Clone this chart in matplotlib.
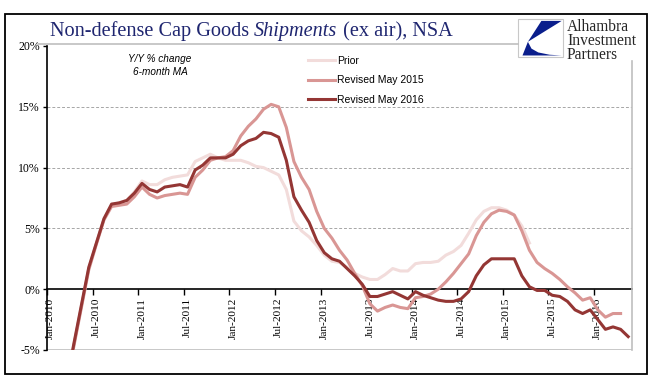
import numpy as np
import matplotlib
matplotlib.use("Agg")
import matplotlib.pyplot as plt
from matplotlib.patches import Rectangle, Polygon
from matplotlib.lines import Line2D

# Monthly data, Jan-2010 .. May-2016 (Y/Y % change, 6-month MA)
nan = np.nan
revised_2016 = [nan, nan, -8.0, -4.6, -1.4, 1.8, 3.8, 5.8, 7.0, 7.1, 7.3, 7.9,
                8.7, 8.2, 8.0, 8.4, 8.5, 8.6, 8.4, 9.8, 10.2, 10.8, 10.8, 10.8,
                11.1, 11.8, 12.2, 12.4, 12.9, 12.8, 12.5, 10.6, 7.6, 6.5, 5.5, 4.0,
                3.0, 2.5, 2.3, 1.7, 1.1, 0.4, -0.6, -0.6, -0.4, -0.2, -0.5, -0.8,
                -0.2, -0.5, -0.7, -0.9, -1.0, -1.0, -0.8, -0.2, 1.1, 2.0, 2.5, 2.5,
                2.5, 2.5, 1.1, 0.2, -0.1, -0.1, -0.5, -0.6, -1.0, -1.7, -2.0, -1.7,
                -2.5, -3.3, -3.1, -3.3, -3.9]
revised_2015 = [nan, nan, -8.2, -4.8, -1.6, 1.6, 3.7, 5.7, 6.8, 6.9, 7.0, 7.6,
                8.4, 7.8, 7.5, 7.7, 7.8, 7.9, 7.8, 9.2, 9.8, 10.6, 10.8, 10.9,
                11.4, 12.6, 13.4, 14.0, 14.8, 15.2, 15.0, 13.3, 10.5, 9.2, 8.2, 6.4,
                5.0, 4.2, 3.2, 2.4, 1.3, 0.3, -1.2, -1.8, -1.5, -1.3, -1.5, -1.6,
                -0.7, -0.6, -0.4, 0.0, 0.6, 1.3, 2.1, 2.9, 4.4, 5.5, 6.2, 6.5,
                6.4, 6.1, 4.8, 3.2, 2.2, 1.7, 1.3, 0.8, 0.2, -0.3, -0.9, -0.7,
                -1.7, -2.3, -2.0, -2.0]
prior = [nan, nan, -8.1, -4.7, -1.5, 1.7, 3.8, 5.8, 6.9, 7.1, 7.3, 8.0,
         8.9, 8.6, 8.6, 9.0, 9.2, 9.3, 9.4, 10.5, 10.8, 11.1, 10.8, 10.6,
         10.6, 10.6, 10.4, 10.1, 10.0, 9.7, 9.4, 8.2, 5.6, 4.8, 4.3, 3.6,
         2.8, 2.3, 2.2, 1.8, 1.3, 1.0, 0.8, 0.8, 1.2, 1.7, 1.5, 1.5,
         2.1, 2.2, 2.2, 2.3, 2.8, 3.1, 3.6, 4.6, 5.7, 6.4, 6.7, 6.7,
         6.5, 6.1, 5.2, 3.8]

tick_labels = ["Jan-2010", "Jul-2010", "Jan-2011", "Jul-2011", "Jan-2012", "Jul-2012",
               "Jan-2013", "Jul-2013", "Jan-2014", "Jul-2014", "Jan-2015", "Jul-2015",
               "Jan-2016"]
y_ticks = [-5, 0, 5, 10, 15, 20]

c_prior = "#F2DCDB"
c_2015 = "#D99694"
c_2016 = "#943634"
serif = "Liberation Serif"
sans = "Liberation Sans"

W, H = 651, 392
fig = plt.figure(figsize=(W / 100, H / 100), dpi=100)

def fx(px):
    return px / W

def fy(py):
    return 1 - py / H

ax = fig.add_axes([fx(47), fy(350), fx(632) - fx(47), fy(46) - fy(350)])

ax.plot(np.arange(len(prior)), prior, color=c_prior, lw=2.2, label="Prior", zorder=3)
ax.plot(np.arange(len(revised_2015)), revised_2015, color=c_2015, lw=2.2,
        label="Revised May 2015", zorder=4)
ax.plot(np.arange(len(revised_2016)), revised_2016, color=c_2016, lw=2.2,
        label="Revised May 2016", zorder=5)

ax.set_xlim(-0.5, 76.5)
ax.set_ylim(-5, 20)

# gridlines
for v in [5, 10, 15]:
    ax.axhline(v, color="#A6A6A6", lw=0.7, ls=(0, (3, 2)), zorder=1)
ax.axhline(-5, color="#BFBFBF", lw=1.2, zorder=1)

ax.spines["top"].set_visible(False)
ax.spines["right"].set_color("#BFBFBF")
ax.spines["right"].set_linewidth(1.2)
ax.spines["right"].set_bounds(-5, 18.8)
ax.spines["left"].set_color("black")
ax.spines["left"].set_linewidth(1.2)
ax.spines["bottom"].set_position(("data", 0))
ax.spines["bottom"].set_color("black")
ax.spines["bottom"].set_linewidth(1.2)
ax.spines["bottom"].set_zorder(2)

ax.set_yticks(y_ticks)
ax.set_yticklabels([f"{v}%" for v in y_ticks], fontfamily=serif, fontsize=8.5)
ax.tick_params(axis="y", direction="out", length=3, width=1, pad=2)

ax.set_xticks(np.arange(0, 73, 6) - 0.5)
ax.set_xticklabels([])
ax.set_xticks(np.arange(0, 73, 6), minor=True)
ax.set_xticklabels(tick_labels, minor=True, rotation=90, fontfamily=serif, fontsize=8.2)
ax.tick_params(axis="x", which="major", direction="out", length=4, width=1)
ax.tick_params(axis="x", which="minor", length=0, pad=6)

ax.text(0.193, 0.975, "Y/Y % change\n6-month MA", transform=ax.transAxes,
        ha="center", va="top", fontsize=7.2, fontstyle="italic", fontfamily=sans,
        linespacing=1.45)

leg = ax.legend(loc="upper left", bbox_to_anchor=(fx(308), fy(56)),
                bbox_transform=fig.transFigure, frameon=False,
                handlelength=2.6, handletextpad=0.2, labelspacing=0.9,
                borderpad=0, borderaxespad=0, prop={"family": sans, "size": 7.5})

# title in three pieces (middle word italic)
title_color = "#1F2670"
renderer = fig.canvas.get_renderer()
x = fx(50)
for piece, style in [("Non-defense Cap Goods ", "normal"), ("Shipments", "italic"),
                     (" (ex air), NSA", "normal")]:
    t = fig.text(x, fy(36), piece, fontsize=14.6, fontfamily=serif, fontstyle=style,
                 color=title_color, va="baseline", ha="left")
    bb = t.get_window_extent(renderer)
    x = bb.x1 / W

fig.add_artist(Line2D([fx(38), fx(518)], [fy(44), fy(44)], color="#BFBFBF", lw=1.2))

# logo
fig.add_artist(Rectangle((fx(518), fy(57)), fx(563) - fx(518), fy(19) - fy(57),
                         facecolor="white", edgecolor="#C8C8C8", lw=0.8))

def logo_xy(u, v):
    return (fx(518 + 45 * u), fy(57 - 38 * v))

upper = [logo_xy(0.52, 0.95), logo_xy(0.97, 0.95), logo_xy(0.22, 0.40)]
lower = [logo_xy(0.22, 0.40), logo_xy(0.30, 0.22), logo_xy(0.45, 0.12),
         logo_xy(0.70, 0.06), logo_xy(0.97, 0.04), logo_xy(0.10, 0.04)]
fig.add_artist(Polygon(upper, closed=True, facecolor="#0A1E8C", edgecolor="none"))
fig.add_artist(Polygon(lower, closed=True, facecolor="#0A1E8C", edgecolor="none"))
fig.text(fx(567), fy(19), "Alhambra\nInvestment\nPartners", fontsize=11.2,
         fontfamily=serif, color="#262626", va="top", ha="left", linespacing=0.82)

# outer frame
fig.add_artist(Rectangle((fx(5), fy(374)), fx(647) - fx(5), fy(14) - fy(374),
                         fill=False, edgecolor="black", lw=1.3))

fig.savefig("out.png", dpi=100)
